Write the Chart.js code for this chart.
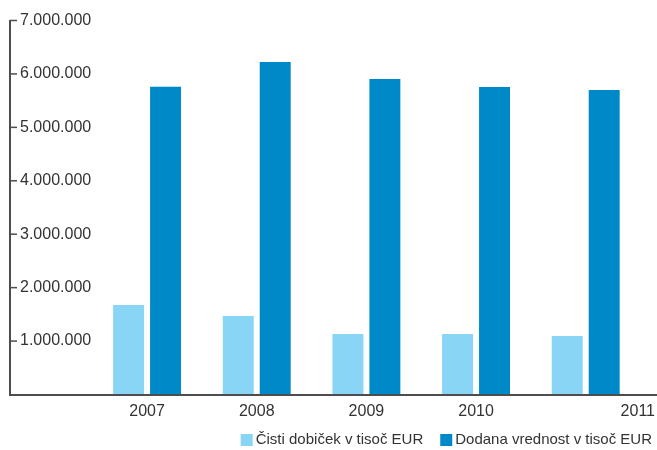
<!DOCTYPE html>
<html>
<head>
<meta charset="utf-8">
<title>Čisti dobiček in dodana vrednost</title>
<script src="https://cdn.jsdelivr.net/npm/chart.js@4.4.1/dist/chart.umd.min.js"></script>
<style>
  html, body { margin: 0; padding: 0; background: #fff; }
  canvas { display: block; }
</style>
</head>
<body>
<canvas id="chart" width="657" height="450"></canvas>
<script>
// data
const years = [2007, 2008, 2009, 2010, 2011];
const netProfit = [1675000, 1469000, 1132000, 1132000, 1095000];
const valueAdded = [5761000, 6223000, 5905000, 5755000, 5699000];
const seriesNames = ["Čisti dobiček v tisoč EUR", "Dodana vrednost v tisoč EUR"];
const yMax = 7000000;
const yStep = 1000000;

const lightBlue = "#89d5f6";
const darkBlue = "#0089c9";
const axisColor = "#4d4d4d";
const textColor = "#333333";
const fontFamily = "'Liberation Sans', Arial, Helvetica, sans-serif";

Chart.defaults.font.family = fontFamily;
Chart.defaults.color = textColor;

function formatThousands(v) {
  return String(v).replace(/\B(?=(\d{3})+(?!\d))/g, ".");
}

// inner tick marks on the y axis, year labels under the axis and the legend
const axisExtras = {
  id: "axisExtras",
  afterDraw(chart) {
    const ctx = chart.ctx;
    const xs = chart.scales.x;
    const ys = chart.scales.y;
    const area = chart.chartArea;
    ctx.save();

    // tick marks
    ctx.strokeStyle = axisColor;
    ctx.lineWidth = 1.5;
    ys.ticks.forEach((t) => {
      if (t.value === 0) return;
      const py = ys.getPixelForValue(t.value);
      ctx.beginPath();
      ctx.moveTo(area.left, py);
      ctx.lineTo(area.left + 7, py);
      ctx.stroke();
    });

    // year labels
    ctx.fillStyle = textColor;
    ctx.font = "16px " + fontFamily;
    ctx.textBaseline = "middle";
    years.forEach((yr, i) => {
      const px = xs.getPixelForValue(yr);
      if (i === years.length - 1) {
        ctx.textAlign = "right";
        ctx.fillText(String(yr), area.right - 2, area.bottom + 17);
      } else {
        ctx.textAlign = "center";
        ctx.fillText(String(yr), px, area.bottom + 17);
      }
    });

    // legend, right aligned
    ctx.font = "15px " + fontFamily;
    ctx.textAlign = "left";
    const box = 12;
    const gapText = 3;
    const gapItem = 17;
    const colors = chart.data.datasets.map((d) => d.backgroundColor);
    const widths = chart.data.datasets.map((d) => ctx.measureText(d.label).width);
    let total = 0;
    widths.forEach((w, i) => {
      total += box + gapText + w + (i < widths.length - 1 ? gapItem : 0);
    });
    let lx = 652 - total;
    const ly = 440;
    chart.data.datasets.forEach((d, i) => {
      ctx.fillStyle = colors[i];
      ctx.fillRect(lx, ly - 6, box, box);
      lx += box + gapText;
      ctx.fillStyle = textColor;
      ctx.fillText(d.label, lx, ly);
      lx += widths[i] + gapItem;
    });

    ctx.restore();
  },
};

const ctx = document.getElementById("chart").getContext("2d");
new Chart(ctx, {
  type: "bar",
  data: {
    labels: years,
    datasets: [
      {
        label: seriesNames[0],
        data: netProfit,
        backgroundColor: lightBlue,
        categoryPercentage: 0.674,
        barPercentage: 0.838,
      },
      {
        label: seriesNames[1],
        data: valueAdded,
        backgroundColor: darkBlue,
        categoryPercentage: 0.674,
        barPercentage: 0.838,
      },
    ],
  },
  options: {
    responsive: false,
    animation: false,
    layout: {
      padding: { left: 10, right: 0, top: 20.5, bottom: 55.5 },
    },
    plugins: {
      legend: { display: false },
      tooltip: { enabled: false },
    },
    scales: {
      x: {
        type: "linear",
        offset: false,
        min: years[0] - 1.25,
        max: years[years.length - 1] + 0.65,
        grid: { display: false, drawTicks: false, offset: false },
        border: { display: true, color: axisColor, width: 2, z: 1 },
        ticks: { display: false },
      },
      y: {
        min: 0,
        max: yMax,
        // labels sit inside the plot, so the axis takes no width
        afterFit: (scale) => {
          scale.width = 0;
        },
        grid: { display: false, drawTicks: false },
        border: { display: true, color: axisColor, width: 2, z: 1 },
        ticks: {
          stepSize: yStep,
          mirror: true,
          padding: 10,
          color: textColor,
          font: { size: 16 },
          callback: (v) => (v === 0 ? null : formatThousands(v)),
        },
      },
    },
  },
  plugins: [axisExtras],
});
</script>
</body>
</html>
